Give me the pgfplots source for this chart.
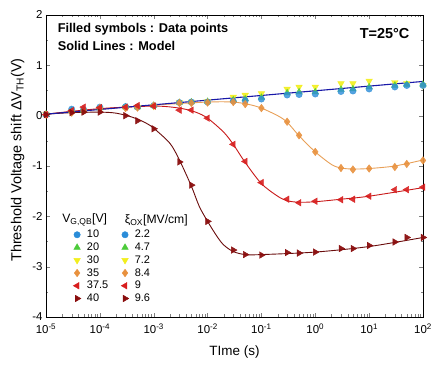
\documentclass[border=0pt]{standalone}
\usepackage{pgfplots}
\usepackage{pgfplotstable}
\pgfplotsset{compat=1.18}
\usepackage{fontspec}
\setmainfont{Liberation Sans}
\definecolor{c10}{HTML}{2A8CD8}
\definecolor{c20}{HTML}{4CCB3A}
\definecolor{c30}{HTML}{F2EE1E}
\definecolor{c35}{HTML}{E8913E}
\definecolor{c375}{HTML}{D81E1E}
\definecolor{c40}{HTML}{8A0E0E}
\definecolor{mblue}{HTML}{1818A8}
\definecolor{m35}{HTML}{E8A058}
\definecolor{m375}{HTML}{C81818}
\definecolor{m40}{HTML}{6A0C0C}

\pgfplotstableread{
t v10 v20 v30 v35 v375 v40
1e-5 0.02 0.03 0.03 0.02 0.02 0.02
3e-5 0.13 0.10 0.08 0.06 0.10 0.06
5e-5 0.12 0.10 0.10 0.10 0.17 0.07
1e-4 0.17 0.15 0.14 0.15 0.16 0.07
3e-4 0.18 0.17 0.17 0.15 0.17 0.00
5e-4 0.17 0.17 0.17 0.16 0.20 -0.10
1e-3 0.20 0.20 0.19 0.20 0.19 -0.26
3e-3 0.26 0.26 0.26 0.25 0.11 -0.92
5e-3 0.27 0.27 0.27 0.25 0.11 -1.38
1e-2 0.27 0.28 0.28 0.26 -0.05 -2.10
3e-2 0.29 0.31 0.37 0.27 -0.57 -2.67
5e-2 0.30 0.33 0.41 0.23 -0.91 -2.76
0.1 0.33 0.36 0.44 0.15 -1.33 -2.77
0.3 0.41 0.45 0.53 -0.12 -1.66 -2.72
0.5 0.42 0.47 0.57 -0.39 -1.73 -2.73
1 0.43 0.47 0.57 -0.72 -1.70 -2.71
3 0.48 0.52 0.64 -1.04 -1.67 -2.64
5 0.49 0.53 0.64 -1.07 -1.66 -2.64
10 0.53 0.57 0.69 -1.05 -1.60 -2.58
30 0.57 0.60 0.66 -1.02 -1.47 -2.51
50 0.60 0.62 0.64 -0.96 -1.47 -2.42
100 0.60 0.62 0.60 -0.89 -1.42 -2.42
}\data

\pgfplotstableread{
t v
1e-5 0.03
3e-5 0.06
1e-4 0.07
2e-4 0.05
4e-4 -0.03
7e-4 -0.14
1e-3 -0.25
2e-3 -0.55
3e-3 -0.88
5e-3 -1.40
7e-3 -1.80
1e-2 -2.10
1.5e-2 -2.40
2e-2 -2.57
3e-2 -2.70
5e-2 -2.76
0.1 -2.76
1 -2.71
10 -2.60
100 -2.42
}\mforty

\pgfplotstableread{
t v
1e-5 0.03
1e-4 0.14
1e-3 0.19
3e-3 0.15
6e-3 0.07
1e-2 -0.05
2e-2 -0.33
3e-2 -0.57
5e-2 -0.93
0.1 -1.35
0.2 -1.60
0.3 -1.69
0.5 -1.72
1 -1.71
3 -1.66
10 -1.60
100 -1.43
}\mthirtyseven

\pgfplotstableread{
t v
1e-5 0.03
1e-4 0.13
1e-3 0.21
1e-2 0.27
3e-2 0.27
6e-2 0.22
0.1 0.15
0.2 0.00
0.3 -0.13
0.5 -0.40
1 -0.72
2 -0.97
3 -1.04
5 -1.06
10 -1.05
30 -1.00
100 -0.88
}\mthirtyfive

\pgfplotstableread{
t v
1e-5 0.03
100 0.68
}\mbase

\tikzset{
 s10/.style={color=c10, mark=*, mark size=3.2bp},
 s20/.style={color=c20, mark=triangle*, mark size=3.8bp},
 s30/.style={color=c30, mark=triangle*, mark size=3.8bp, mark options={rotate=180}},
 s35/.style={color=c35, mark=diamond*, mark size=3.8bp},
 s375/.style={color=c375, mark=triangle*, mark size=3.8bp, mark options={rotate=90}},
 s40/.style={color=c40, mark=triangle*, mark size=3.8bp, mark options={rotate=-90}},
}

\begin{document}
\begin{tikzpicture}
\begin{axis}[
 scale only axis, width=377bp, height=302bp,
 xmode=log, xmin=1e-5, xmax=1e2, ymin=-4, ymax=2,
 xtick={1e-5,1e-4,1e-3,1e-2,1e-1,1e0,1e1,1e2},
 xticklabels={10\textsuperscript{-5},10\textsuperscript{-4},10\textsuperscript{-3},10\textsuperscript{-2},10\textsuperscript{-1},10\textsuperscript{0},10\textsuperscript{1},10\textsuperscript{2}},
 ytick={-4,-3,...,2}, minor y tick num=1,
 /pgf/number format/assume math mode=true,
 tick label style={font=\fontsize{11.5}{13}\selectfont},
 xticklabel style={yshift=-3bp},
 major tick length=4bp, minor tick length=2.5bp,
 xlabel={TIme (s)}, ylabel={Threshold Voltage shift ΔV\textsubscript{TH}(V)},
 xlabel style={font=\fontsize{13.5}{15}\selectfont, yshift=-5bp},
 ylabel style={font=\fontsize{14.5}{16}\selectfont, at={(ticklabel cs:0.52)}, yshift=1bp},
 legend image code/.code={\draw[#1] plot coordinates {(0bp,0bp)};},
 legend columns=2,
 legend cell align=left,
 legend style={at={(rel axis cs:0.064,0.298)}, anchor=north west, draw=none, fill=none,
   font=\fontsize{11}{12}\selectfont, row sep=1.6bp, nodes={inner sep=1bp},
   /tikz/every even column/.append style={column sep=12bp},
   /tikz/every odd column/.append style={column sep=5bp}},
]
\addlegendimage{only marks, s10}\addlegendentry{10}
\addlegendimage{only marks, s10}\addlegendentry{2.2}
\addlegendimage{only marks, s20}\addlegendentry{20}
\addlegendimage{only marks, s20}\addlegendentry{4.7}
\addlegendimage{only marks, s30}\addlegendentry{30}
\addlegendimage{only marks, s30}\addlegendentry{7.2}
\addlegendimage{only marks, s35}\addlegendentry{35}
\addlegendimage{only marks, s35}\addlegendentry{8.4}
\addlegendimage{only marks, s375}\addlegendentry{37.5}
\addlegendimage{only marks, s375}\addlegendentry{9}
\addlegendimage{only marks, s40}\addlegendentry{40}
\addlegendimage{only marks, s40}\addlegendentry{9.6}

\addplot[forget plot, only marks, s30, opacity=0.9] table[x=t, y=v30] {\data};
\addplot[forget plot, only marks, s20, opacity=0.8] table[x=t, y=v20] {\data};
\addplot[forget plot, only marks, s10, opacity=0.8] table[x=t, y=v10] {\data};
\addplot[forget plot, only marks, s35, opacity=0.9] table[x=t, y=v35] {\data};
\addplot[forget plot, only marks, s375, opacity=0.9] table[x=t, y=v375] {\data};
\addplot[forget plot, only marks, s40, opacity=0.95] table[x=t, y=v40] {\data};

\addplot[forget plot, no marks, smooth, m35, line width=0.9bp] table[x=t, y=v] {\mthirtyfive};
\addplot[forget plot, no marks, smooth, m375, line width=0.9bp] table[x=t, y=v] {\mthirtyseven};
\addplot[forget plot, no marks, smooth, m40, line width=0.9bp] table[x=t, y=v] {\mforty};
\addplot[forget plot, no marks, mblue, line width=1.1bp] table[x=t, y=v] {\mbase};

\node[anchor=west, font=\bfseries\fontsize{12.8}{14}\selectfont] at (rel axis cs:0.022,0.954) {Filled symbols : Data points};
\node[anchor=west, font=\bfseries\fontsize{12.8}{14}\selectfont] at (rel axis cs:0.022,0.897) {Solid Lines : Model};
\node[anchor=east, font=\bfseries\fontsize{14.5}{16}\selectfont] at (rel axis cs:0.973,0.94) {T=25°C};
\node[anchor=west, font=\fontsize{12.2}{14}\selectfont] at (rel axis cs:0.034,0.321) {V\textsubscript{G,QB}[V]};
\node[anchor=west, font=\fontsize{12.2}{14}\selectfont] at (rel axis cs:0.2,0.321) {ξ\textsubscript{OX}[MV/cm]};
\coordinate (sw) at (rel axis cs:0,0);
\coordinate (ne) at (rel axis cs:1,1);
\end{axis}
\pgfresetboundingbox
\path[use as bounding box] ([shift={(-46bp,-49bp)}]sw) rectangle ([shift={(13bp,15bp)}]ne);
\end{tikzpicture}
\end{document}
